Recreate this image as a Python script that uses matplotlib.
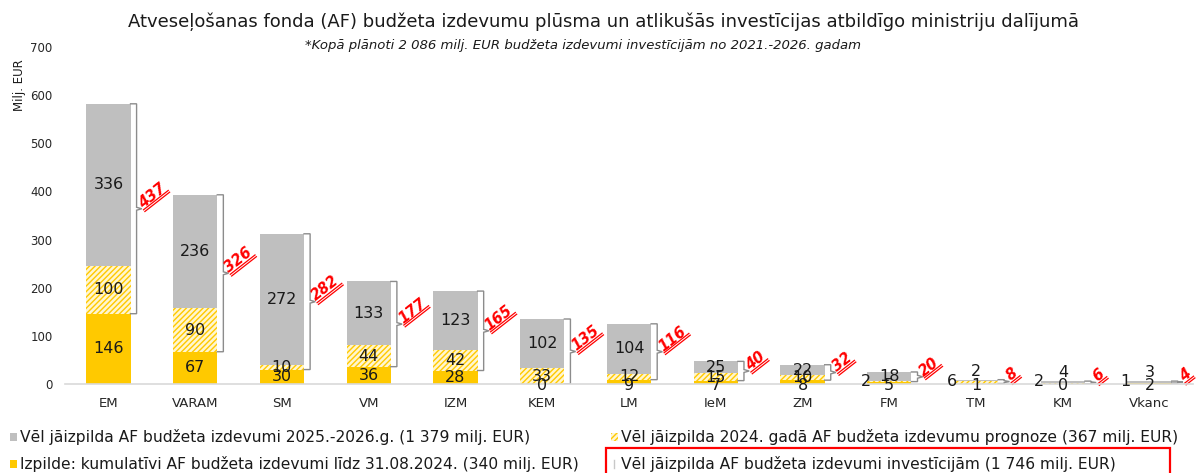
import numpy as np
import matplotlib
matplotlib.use("Agg")
import matplotlib.pyplot as plt
from matplotlib.patches import Rectangle
from matplotlib.font_manager import FontProperties

# dati (milj. EUR)
ministrijas = ['EM', 'VARAM', 'SM', 'VM', 'IZM', 'KEM', 'LM', 'IeM', 'ZM', 'FM', 'TM', 'KM', 'Vkanc']
izpilde = [146, 67, 30, 36, 28, 0, 9, 7, 8, 5, 1, 0, 2]
prognoze_2024 = [100, 90, 10, 44, 42, 33, 12, 15, 10, 2, 6, 2, 1]
izdevumi_2025_2026 = [336, 236, 272, 133, 123, 102, 104, 25, 22, 18, 2, 4, 3]
atlikums = [437, 326, 282, 177, 165, 135, 116, 40, 32, 20, 8, 6, 4]
yticks = [0, 100, 200, 300, 400, 500, 600, 700]

legend_texts = ['Vēl jāizpilda AF budžeta izdevumi 2025.-2026.g. (1 379 milj. EUR)',
                'Izpilde: kumulatīvi AF budžeta izdevumi līdz 31.08.2024. (340 milj. EUR)',
                'Vēl jāizpilda 2024. gadā AF budžeta izdevumu prognoze (367 milj. EUR)',
                'Vēl jāizpilda AF budžeta izdevumi investīcijām (1 746 milj. EUR)']

GRAY = '#BFBFBF'
YEL = '#FFC900'
plt.rcParams['hatch.linewidth'] = 1.0

W, H = 1198, 473
fig = plt.figure(figsize=(W / 100, H / 100), dpi=100)
ax = fig.add_axes([65 / W, 1 - 384 / H, (1193 - 65) / W, (384 - 47) / H])

x = np.arange(len(ministrijas))
bw = 0.51
izp = np.array(izpilde)
pro = np.array(prognoze_2024)
gr = np.array(izdevumi_2025_2026)

ax.bar(x, izp, bw, color=YEL, linewidth=0)
ax.bar(x, pro, bw, bottom=izp, facecolor='#FFF6D0', edgecolor=YEL, hatch='//////', linewidth=0)
ax.bar(x, gr, bw, bottom=izp + pro, color=GRAY, linewidth=0)

ax.set_xlim(-0.5, len(ministrijas) - 0.5)
ax.set_ylim(0, 700)
ax.set_yticks(yticks)
ax.set_xticks(x)
ax.set_xticklabels(ministrijas, fontsize=9.5)
ax.tick_params(axis='y', length=0, labelsize=8.5, pad=9, labelcolor='#262626')
ax.tick_params(axis='x', length=0, pad=9, labelcolor='#262626')
for s in ['top', 'right', 'left']:
    ax.spines[s].set_visible(False)
ax.spines['bottom'].set_color('#D9D9D9')
ax.spines['bottom'].set_linewidth(1.2)

# datu etiķetes
lbl = dict(fontsize=11.5, color='#1a1a1a', ha='center', va='center')
for i in x:
    tot = izp[i] + pro[i] + gr[i]
    # izpilde
    if izp[i] >= 10:
        ax.text(i, izp[i] / 2, str(izp[i]), **lbl)
    else:
        ax.text(i, -4, str(izp[i]), **lbl)
    # prognoze 2024
    if tot < 30:
        ax.text(i - bw / 2 - 0.02, 5, str(pro[i]), **lbl)
    else:
        ax.text(i, izp[i] + pro[i] / 2, str(pro[i]), **lbl)
    # 2025-2026
    if gr[i] < 10:
        ax.text(i, tot + 17, str(gr[i]), **lbl)
    else:
        ax.text(i, izp[i] + pro[i] + gr[i] / 2, str(gr[i]), **lbl)

# iekavas
for i in x:
    bot = izp[i]
    top = izp[i] + pro[i] + gr[i]
    mid = (bot + top) / 2
    x0 = i + bw / 2
    xb = x0 + 0.07
    xt = x0 + 0.13
    e = min(3, (top - bot) / 4)
    ax.plot([x0, xb, xb, xt, xb, xb, x0],
            [top, top, mid + e, mid, mid - e, bot, bot],
            color='#8C8C8C', lw=1, solid_joinstyle='miter')

# sarkanie atlikumi ar dubulto pasvītrojumu
fig.canvas.draw()
rend = fig.canvas.get_renderer()
fp = FontProperties(family='DejaVu Sans', weight='bold', style='italic', size=10.5)
ang = 38
d = np.array([np.cos(np.radians(ang)), np.sin(np.radians(ang))])
nrm = np.array([d[1], -d[0]])
inv = ax.transData.inverted()
for i in x:
    bot = izp[i]
    top = izp[i] + pro[i] + gr[i]
    mid = (bot + top) / 2
    P = ax.transData.transform((i + bw / 2 + 0.15, mid)) + np.array([0, -1])
    s = str(atlikums[i])
    w, h, dsc = rend.get_text_width_height_descent(s, fp, ismath=False)
    T = inv.transform(P - nrm * 1.5)
    ax.text(T[0], T[1], s, fontproperties=fp, color='#FF0000', rotation=ang,
            rotation_mode='anchor', ha='left', va='baseline')
    for off in (0, 2.2):
        a = P + nrm * off
        b = a + d * (w + 1)
        pa, pb = inv.transform(a), inv.transform(b)
        ax.plot([pa[0], pb[0]], [pa[1], pb[1]], color='#FF0000', lw=0.9, clip_on=False)

# virsraksti
fig.text(604 / W, 1 - 22 / H, 'Atveseļošanas fonda (AF) budžeta izdevumu plūsma un atlikušās investīcijas atbildīgo ministriju dalījumā',
         ha='center', va='center', fontsize=13, color='#1a1a1a')
fig.text(583 / W, 1 - 45 / H, '*Kopā plānoti 2 086 milj. EUR budžeta izdevumi investīcijām no 2021.-2026. gadam',
         ha='center', va='center', fontsize=9.5, style='italic', color='#1a1a1a')
fig.text(20 / W, 1 - 85 / H, 'Milj. EUR', rotation=90, ha='center', va='center', fontsize=8.5, color='#1a1a1a')

# leģenda
leg_pos = [(10, 437), (10, 464), (611, 437), (611, 464)]
for k, (lx, ly) in enumerate(leg_pos):
    if k == 0:
        fig.patches.append(Rectangle((lx / W, 1 - (ly + 4) / H), 7 / W, 8 / H, transform=fig.transFigure,
                                     facecolor=GRAY, linewidth=0))
    elif k == 1:
        fig.patches.append(Rectangle((lx / W, 1 - (ly + 4) / H), 7 / W, 8 / H, transform=fig.transFigure,
                                     facecolor=YEL, linewidth=0))
    elif k == 2:
        fig.patches.append(Rectangle((lx / W, 1 - (ly + 4) / H), 7 / W, 8 / H, transform=fig.transFigure,
                                     facecolor='#FFF6D0', edgecolor=YEL, hatch='//////', linewidth=0))
    else:
        fig.lines.append(plt.Line2D([(lx + 3) / W, (lx + 3) / W], [1 - (ly + 4) / H, 1 - (ly - 4) / H],
                                    transform=fig.transFigure, color='#C8C8C8', lw=1))
    fig.text((lx + 10) / W, 1 - ly / H, legend_texts[k], ha='left', va='center', fontsize=11.2, color='#1a1a1a')

fig.patches.append(Rectangle((606 / W, 1 - 490 / H), (1170 - 606) / W, (490 - 448) / H, transform=fig.transFigure,
                             facecolor='none', edgecolor='#FF0000', linewidth=1.6))

fig.savefig('out.png', dpi=100)
